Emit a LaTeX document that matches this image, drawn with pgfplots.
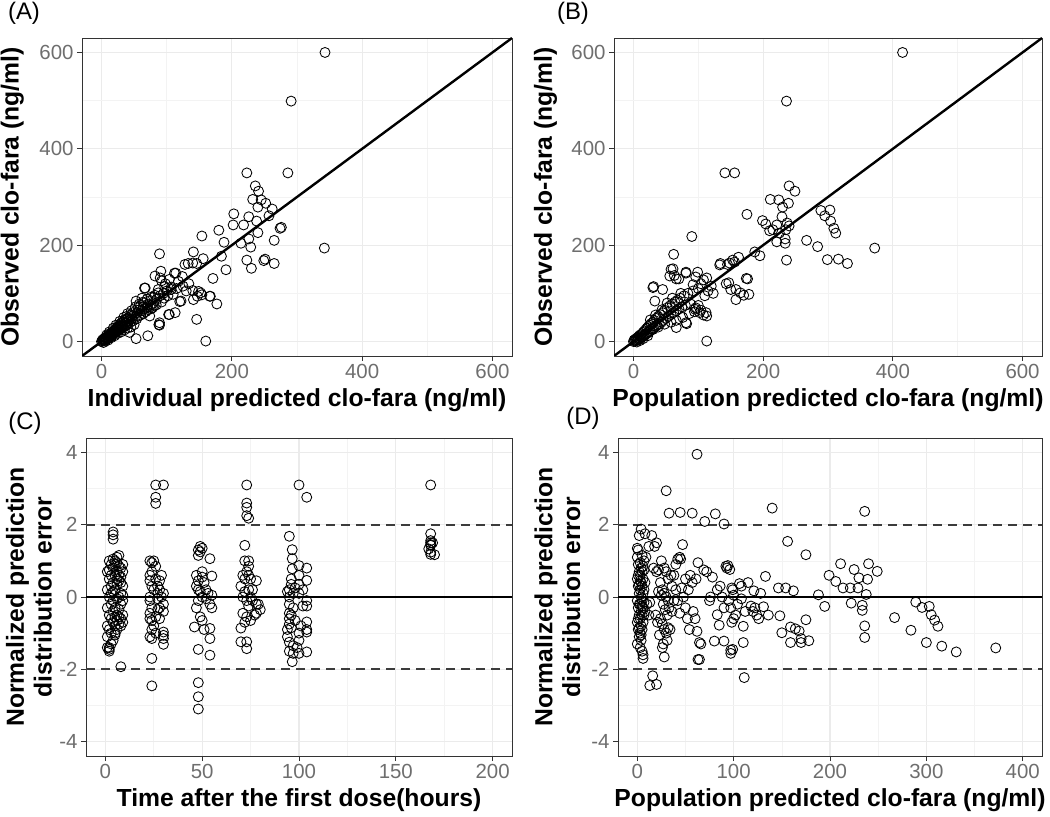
\documentclass[border=0pt]{standalone}
\usepackage{pgfplots}
\pgfplotsset{compat=1.18}
\usepackage{fontspec}
\setmainfont{Liberation Sans}
\definecolor{tickgrey}{RGB}{110,110,110}
\definecolor{gridmaj}{RGB}{235,235,235}
\definecolor{gridmin}{RGB}{243,243,243}
\definecolor{frame}{RGB}{51,51,51}
\definecolor{dashc}{RGB}{60,60,60}
\pgfplotsset{
 myax/.style={
  scale only axis, anchor=south west,
  axis line style={draw=frame, line width=0.9bp},
  grid=both,
  major grid style={draw=gridmaj, line width=1.1bp},
  minor grid style={draw=gridmin, line width=0.6bp},
  tick align=outside, major tick length=5bp, minor tick length=0pt,
  tick style={draw=frame, line width=0.9bp},
  tick pos=left,
  ticklabel style={font=\fontsize{20.5}{22}\selectfont, text=tickgrey},
  /pgf/number format/assume math mode=true,
  label style={font=\bfseries\fontsize{24.8}{28}\selectfont},
  xlabel style={at={(axis description cs:0.5,-0.138)}, anchor=center},
 },
 pts/.style={only marks, mark=o, mark size=5bp, mark options={line width=0.85bp, draw=black}},
 dashl/.style={dashc, line width=1.8bp, dash pattern=on 9bp off 6bp},
}
\begin{document}
\begin{tikzpicture}
\path[use as bounding box] (0bp,0bp) rectangle (1050bp,817bp);
% ---------------- (A)
\begin{axis}[myax, at={(82bp,461bp)}, width=430bp, height=318bp,
  xmin=-30, xmax=630, ymin=-30, ymax=630,
  xtick={0,200,400,600}, ytick={0,200,400,600},
  minor xtick={100,300,500}, minor ytick={100,300,500},
  xlabel={Individual predicted clo-fara (ng/ml)},
  ylabel={Observed clo-fara (ng/ml)},
  ylabel style={at={(axis description cs:-0.162,0.5)}, anchor=center}]
\addplot[pts] coordinates {
(0,0) (1,2) (2,1) (2,4) (3,3) (4,2) (4,6) (5,5) (6,4) (6,8) (7,7) (8,5) (8,10) (9,9) (10,7) (10,12) (11,11) (12,9) (12,14) (13,13)
(14,11) (14,17) (15,15) (16,13) (16,19) (17,17) (18,15) (18,21) (19,20) (20,18) (20,24) (21,22) (22,19) (22,27) (23,25) (24,21) (24,30)
(25,27) (26,23) (26,32) (27,29) (28,25) (28,35) (29,31) (30,27) (30,38) (31,33) (32,29) (32,41) (33,36) (34,31) (35,44) (36,38) (37,33)
(38,47) (39,41) (40,36) (41,49) (42,44) (44,40) (45,52) (46,47) (48,43) (50,56) (52,50) (54,47) (55,60) (57,53) (60,55) (62,64) (64,58)
(66,68) (68,62) (70,72) (72,66) (75,75) (78,70) (80,80) (3,-2) (6,1) (10,3) (15,8) (20,12) (25,17) (30,20) (35,24) (40,28) (45,30)
(50,35) (8,14) (12,20) (18,28) (22,34) (28,42) (34,50) (40,58) (46,64) (52,72) (58,78) (64,82) (70,88) (76,92) (82,96)
(53,84) (71,77) (81,74) (74,53) (43,19) (53,6) (71,12) (89,34) (89,39) (104,56) (113,60) (87,101) (66,111) (87,108) (107,108)
(82,136) (90,132) (91,146) (104,129) (112,142) (122,84) (141,87) (147,94) (152,101) (140,106) (134,120) (124,135) (107,113) (97,114)
(67,111) (171,131) (167,94) (177,78) (146,46) (160,1) (133,162) (140,163) (146,162) (141,186) (156,172) (89,182) (154,219) (180,231)
(188,206) (184,177) (191,149) (223,169) (251,171) (249,168) (230,152) (265,162) (202,242) (218,242) (238,250) (203,265) (226,259)
(257,261) (274,235) (276,237) (240,226) (226,213) (265,210) (214,204) (229,196) (342,194) (223,350) (286,350) (236,323) (241,312)
(232,295) (245,294) (252,287) (240,279) (262,275) (343,600) (291,499) (88,35) (103,56) (120,83) (154,97) (166,94) (149,104) (114,142)
(60,75) (65,80) (70,70) (75,85) (80,92) (85,88) (90,95) (95,100) (100,105) (110,98) (115,110) (118,125) (98,120) (92,126) (125,115)
(130,105) (128,160) (62,90) (56,70) (48,60) (44,55) (38,52) (58,66) (64,72) (76,68) (84,76) (92,82) (96,90) (102,95)
};
\addplot[black, line width=2.4bp] coordinates {(-30,-30) (630,630)};
\end{axis}
% ---------------- (B)
\begin{axis}[myax, at={(614bp,461bp)}, width=428bp, height=318bp,
  xmin=-30, xmax=630, ymin=-30, ymax=630,
  xtick={0,200,400,600}, ytick={0,200,400,600},
  minor xtick={100,300,500}, minor ytick={100,300,500},
  xlabel={Population predicted clo-fara (ng/ml)},
  ylabel={Observed clo-fara (ng/ml)},
  ylabel style={at={(axis description cs:-0.16,0.5)}, anchor=center}]
\addplot[pts] coordinates {
(0,0) (1,3) (2,1) (3,5) (4,2) (5,7) (6,3) (7,9) (8,5) (9,12) (10,6) (11,14) (12,8) (13,16) (14,10) (15,19) (16,12) (17,22) (18,14)
(19,25) (20,16) (21,28) (22,18) (23,31) (24,20) (25,34) (26,23) (27,37) (28,25) (30,40) (31,28) (32,44) (34,31) (35,48) (36,34) (38,52)
(40,36) (41,56) (43,40) (45,60) (46,44) (48,65) (50,48) (52,70) (54,52) (56,74) (58,56) (60,78) (62,60) (64,82) (66,64) (68,86) (70,68)
(72,90) (75,72) (78,95) (80,75) (84,100) (88,78) (92,105) (96,70) (100,75) (104,65) (108,55) (112,60) (94,62) (86,58) (76,50) (66,44)
(58,40) (48,36) (38,30) (30,25) (22,12) (15,6) (10,2) (5,-1) (26,45) (34,55) (44,66) (52,80) (60,90) (30,112) (45,108) (33,84) (62,181)
(90,218) (58,150) (63,137) (66,130) (70,130) (81,142) (81,144) (99,144) (96,134) (92,118) (100,110) (104,120) (108,128) (113,132)
(120,115) (123,100) (115,105) (110,95) (143,120) (150,108) (158,108) (165,101) (170,96) (178,98) (158,87) (147,122) (174,131) (176,130)
(134,162) (148,163) (153,169) (162,175) (133,159) (145,160) (156,165) (187,186) (195,178) (81,39) (82,37) (66,29) (113,53) (102,60)
(95,67) (113,1) (73,100) (31,114) (56,136) (61,151) (141,350) (156,350) (175,264) (211,295) (224,294) (240,323) (249,312) (239,287)
(230,279) (289,272) (303,273) (295,261) (304,250) (309,235) (312,225) (199,251) (204,244) (221,242) (215,232) (237,246) (229,259)
(235,232) (267,210) (284,197) (234,213) (234,204) (221,207) (372,194) (299,170) (316,171) (330,162) (236,169) (415,600) (236,499)
(225,225) (240,240) (210,230)
};
\addplot[black, line width=2.4bp] coordinates {(-30,-30) (630,630)};
\end{axis}
% ---------------- (C)
\begin{axis}[myax, at={(86bp,61bp)}, width=426bp, height=318bp,
  xmin=-10, xmax=210, ymin=-4.4, ymax=4.4,
  xtick={0,50,100,150,200}, ytick={-4,-2,0,2,4},
  minor xtick={25,75,125,175}, minor ytick={-3,-1,1,3},
  xlabel={Time after the first dose(hours)},
  ylabel={Normalized prediction\\distribution error},
  ylabel style={align=center, at={(axis description cs:-0.134,0.5)}, anchor=center}]
\addplot[dashl] coordinates {(-10,2) (210,2)};
\addplot[dashl] coordinates {(-10,-2) (210,-2)};
\addplot[black, line width=1.3bp] coordinates {(-10,0) (210,0)};
\addplot[pts] coordinates {
(1,0.7) (1,0.2) (1,-0.3) (1,-0.8) (1,-1.1) (2,1.0) (2,0.5) (2,0) (2,-0.5) (2,-0.9) (2,-1.4) (2,-1.5) (2,-1.45) (3,0.9) (3,0.3) (3,-0.2)
(3,-0.6) (3,-1.0) (3,0.1) (4,1.05) (4,0.8) (4,0.4) (4,-0.1) (4,-0.4) (4,-0.7) (4,-1.2) (4,1.8) (4,1.72) (4,1.6) (5,1.0) (5,0.6) (5,0.2)
(5,-0.3) (5,-0.8) (5,-1.0) (5,0.9) (6,1.1) (6,0.7) (6,0.35) (6,-0.05) (6,-0.5) (6,-0.65) (6,0.95) (7,0.85) (7,0.45) (7,0.0) (7,-0.35)
(7,-0.75) (7,1.15) (7,0.6) (8,0.8) (8,0.4) (8,-0.2) (8,-0.6) (8,-0.8) (8,0.1) (8,-1.93) (9,0.7) (9,0.3) (9,-0.1) (9,-0.5) (9,-0.7)
(9,0.9) (3,-1.3) (1,-1.4) (5,-1.05) (6,-0.9) (3,0.6) (2,0.75) (4,0.15) (6,0.5) (8,0.55) (9,0.05) (5,-0.55) (7,-0.55)
(23,1.0) (24,0.95) (25,1.0) (23,0.6) (23,0.45) (24,0.3) (23,0) (23,-0.1) (24,-0.3) (23,-0.45) (23,-0.6) (24,-0.65) (24,-0.9) (23,-1.1)
(24,-1.15) (24,-1.7) (24,-2.46) (26,2.76) (26,2.59) (26,3.1) (30,3.1) (26,0.5) (27,0.3) (27,-0.05) (27,-0.35) (26,-0.55) (27,0.1)
(28,0.45) (28,0.2) (28,-0.3) (26,0.85) (29,0.6) (30,0.1) (30,-0.2) (30,-0.4) (30,-0.97) (30,-1.06) (30,-1.15) (30,-1.31) (29,0.0)
(25,-0.8) (25,0.2) (28,-0.6) (24,0.7) (26,-1.0)
(48,-2.37) (48,-2.76) (48,-3.1) (48,-1.45) (54,-1.61) (54,-1.15) (54,-0.87) (46,-0.83) (48,1.3) (49,1.25) (50,1.35) (49,1.4) (48,1.15)
(54,1.06) (50,0.7) (55,0.58) (47,0.6) (48,0.45) (47,0.3) (49,0.15) (50,0.0) (48,-0.1) (47,-0.3) (49,-0.55) (50,-0.65) (51,0.4) (52,0.2)
(52,-0.05) (53,0.1) (54,-0.2) (55,-0.3) (55,0.05) (51,-0.9) (50,0.55) (48,0.2)
(73,3.1) (73,2.6) (73,2.48) (73,2.25) (74,2.18) (72,1.43) (70,-1.24) (73,-1.24) (73,-1.43) (70,-0.86) (72,1.0) (74,1.0) (71,0.6)
(72,0.5) (73,0.7) (74,0.6) (75,0.5) (70,0.3) (72,0.15) (74,0.2) (75,0.0) (73,-0.1) (74,-0.25) (71,-0.45) (73,-0.55) (75,-0.65) (76,0.2)
(76,-0.1) (78,0.45) (78,-0.2) (78,-0.45) (80,-0.35) (79,-0.2) (77,-0.5) (72,-0.7) (74,0.85) (71,0.0)
(100,3.1) (104,2.76) (95,1.68) (96.5,1.31) (96.5,1.06) (96.5,0.78) (96.5,-1.79) (95,-1.5) (97,-1.56) (100,-1.56) (104,-1.52) (104,-0.97)
(104,-0.9) (104,-0.69) (104,-0.25) (104,-0.1) (104,0.46) (104,0.8) (100,0.87) (100,0.6) (100,0.35) (100,0.1) (100,-1.2) (100,-1.0)
(95,0.2) (95,0.0) (95,-0.2) (95,-0.45) (95,-0.6) (95,-0.75) (96,-0.85) (96,-0.5) (96,0.35) (96,0.5) (97,-0.3) (97,0.1) (94,-0.9)
(94,-1.1) (94,0.15) (98,-0.65) (98,0.25) (102,-0.25) (102,0.2) (99,-1.4) (101,-0.8) (95,-1.25) (97,-1.35)
(168,3.1) (168,1.75) (168,1.56) (168,1.5) (168,1.43) (167,1.33) (168,1.24) (170,1.17) (168,1.18) (169,1.5) (168,1.45)
};
\end{axis}
% ---------------- (D)
\begin{axis}[myax, at={(618bp,61bp)}, width=424bp, height=318bp,
  xmin=-20, xmax=420, ymin=-4.4, ymax=4.4,
  xtick={0,100,200,300,400}, ytick={-4,-2,0,2,4},
  minor xtick={50,150,250,350}, minor ytick={-3,-1,1,3},
  xlabel={Population predicted clo-fara (ng/ml)},
  ylabel={Normalized prediction\\distribution error},
  ylabel style={align=center, at={(axis description cs:-0.143,0.5)}, anchor=center}]
\addplot[dashl] coordinates {(-20,2) (420,2)};
\addplot[dashl] coordinates {(-20,-2) (420,-2)};
\addplot[black, line width=1.3bp] coordinates {(-20,0) (420,0)};
\addplot[pts] coordinates {
(0,1.35) (1,1.3) (0,1.1) (1,0.9) (2,0.7) (0,0.5) (1,0.3) (2,0.1) (0,-0.1) (1,-0.3) (2,-0.5) (0,-0.7) (1,-0.9) (2,-1.1) (0,-1.3)
(3,0.95) (3,0.6) (3,0.2) (3,-0.2) (3,-0.6) (3,-1.0) (4,0.8) (4,0.4) (4,0.0) (4,-0.4) (4,-0.8) (4,-1.2) (5,0.7) (5,0.3) (5,-0.1)
(5,-0.5) (5,-0.9) (5,-1.5) (6,0.5) (6,0.1) (6,-0.3) (6,-0.7) (6,-1.6) (6,-1.7) (7,1.0) (7,0.2) (7,-0.5) (2,1.7) (4,1.88) (8,1.75)
(1,0.6) (2,-0.2) (3,-1.4) (5,1.15) (7,0.75) (1,-0.6) (2,0.35) (4,-1.05) (6,0.85) (2,-0.85) (3,0.45) (5,-0.25) (7,-0.15) (8,0.4)
(8,-0.4) (9,1.1) (10,-0.2) (12,-0.5) (13,-0.15) (15,1.7) (20,1.5) (18,1.4) (12,1.4)
(20,0.7) (22,0.75) (25,1.0) (28,0.8) (30,0.7) (32,0.5) (24,0.4) (26,0.2) (28,0.1) (30,0.0) (32,-0.1) (25,0.05) (27,-0.2) (29,-0.35)
(31,-0.5) (33,-0.3) (24,-0.6) (26,-0.75) (28,-0.9) (30,-1.0) (32,-0.85) (23,-1.05) (27,-1.3) (31,-1.2) (34,-0.9) (36,-0.4) (38,-0.1)
(36,0.3) (38,0.6) (40,0.9) (42,1.05) (44,1.1) (45,1.05) (47,1.45) (40,0.2) (42,-0.1) (44,-0.45) (46,0.25) (48,0.0) (50,-0.3)
(52,-0.6) (54,-0.9) (50,0.5) (53,0.2) (55,0.6) (58,-0.4) (60,-0.6) (62,-0.95) (63,0.95) (61,0.5) (57,0.4) (35,0.6) (21,-0.7)
(22,0.15) (19,-0.5) (17,0.8) (26,-1.4) (28,-1.66) (13,-2.45) (20,-2.42) (16,-2.18)
(62,3.95) (30,2.94) (33,2.32) (44.5,2.34) (57,2.32) (70,2.09) (81,2.3) (90,2.02) (140,2.46) (236,2.37) (156,1.54) (175,1.17)
(111,-2.23) (64.5,-1.73) (64.5,-1.26) (97,-1.56) (97,-1.47) (110,-1.26) (90,-1.22) (80,-1.22) (150,-0.99) (148,-0.52) (159,-1.26)
(159,-0.83) (164,-0.88) (168,-0.94) (170,-1.26) (170,-1.15) (178,-1.21) (175,-0.63) (133,0.57) (146.5,0.25) (154,0.25) (162,0.17)
(188,0.06) (194.5,-0.26) (199,0.6) (206,0.43) (211,0.92) (213.5,0.25) (221,0.25) (229,0.25) (222,-0.17) (225,0.76) (230,0.53)
(239,0.49) (240,0.92) (249,0.71) (237.6,0.07) (233.5,-0.23) (233.5,-0.37) (236,-0.8) (236,-1.12) (267,-0.57) (284,-0.92) (289,-0.14)
(295.5,-0.29) (303,-0.26) (305,-0.49) (308.6,-0.64) (312,-0.81) (300,-1.26) (316,-1.36) (331,-1.52) (372,-1.41)
(106,0.37) (108,0.3) (99,0.2) (100,0.05) (94,0.87) (96,0.76) (92,0.85) (93,0.8) (78,0.55) (72,0.7) (69,0.75) (83,0.2) (121,0.17)
(120,-0.4) (124,-0.5) (126,-0.6) (110,-0.81) (83,-0.49) (85,-0.78) (75,-0.1) (76,0.0) (86,0.3) (115,0.4) (100,-0.6) (98,-0.7)
(102,-0.5) (97,-0.3) (104,-0.2) (108,-0.05) (112,-0.4) (118,-0.25) (122,-0.3) (128,0.1) (131,-0.27) (136,-0.5) (90,-0.3) (88,0.0)
(95,-0.1) (66,-1.3) (63,-1.73) (99,-1.45) (98,0.25)
};
\end{axis}
\node[font=\fontsize{24}{26}\selectfont] at (24bp,804bp) {(A)};
\node[font=\fontsize{24}{26}\selectfont] at (573bp,804bp) {(B)};
\node[font=\fontsize{24}{26}\selectfont] at (25bp,394bp) {(C)};
\node[font=\fontsize{24}{26}\selectfont] at (583bp,399bp) {(D)};
\end{tikzpicture}
\end{document}
